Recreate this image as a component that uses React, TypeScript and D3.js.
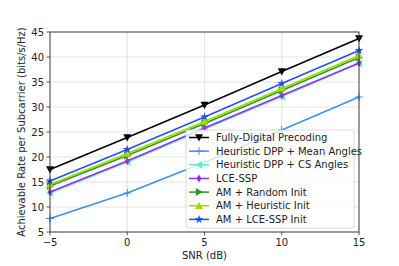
import React from 'react'
import * as d3 from 'd3'

const snr = [-5, 0, 5, 10, 15]
const fullyDigital = [17.5, 23.9, 30.4, 37.1, 43.7]
const meanAngles = [7.7, 12.8, 18.9, 25.4, 32.0]
const csAngles = [12.8, 19.0, 25.6, 32.1, 38.7]
const lceSsp = [13.0, 19.2, 25.8, 32.3, 38.8]
const amRandom = [14.2, 20.3, 26.7, 33.3, 39.9]
const amHeuristic = [14.5, 20.7, 27.1, 33.7, 40.3]
const amLceSsp = [15.2, 21.5, 28.0, 34.7, 41.3]
const xTicks = [-5, 0, 5, 10, 15]
const yTicks = [5, 10, 15, 20, 25, 30, 35, 40, 45]

const series = [
  { name: 'Fully-Digital Precoding', values: fullyDigital, color: '#000000', marker: 'v' },
  { name: 'Heuristic DPP + Mean Angles', values: meanAngles, color: '#3b8ff0', marker: '+' },
  { name: 'Heuristic DPP + CS Angles', values: csAngles, color: '#5ef2c0', marker: '<' },
  { name: 'LCE-SSP', values: lceSsp, color: '#9a2cf0', marker: 'd' },
  { name: 'AM + Random Init', values: amRandom, color: '#1fa01f', marker: '>' },
  { name: 'AM + Heuristic Init', values: amHeuristic, color: '#a8d400', marker: '^' },
  { name: 'AM + LCE-SSP Init', values: amLceSsp, color: '#2150f5', marker: '*' },
]

const Marker = ({ type, x, y, color }) => {
  const s = 4
  switch (type) {
    case 'v':
      return <path d={`M${x - s},${y - s * 0.8}L${x + s},${y - s * 0.8}L${x},${y + s}Z`} fill={color} />
    case '^':
      return <path d={`M${x - s},${y + s * 0.8}L${x + s},${y + s * 0.8}L${x},${y - s}Z`} fill={color} />
    case '<':
      return <path d={`M${x + s * 0.8},${y - s}L${x + s * 0.8},${y + s}L${x - s},${y}Z`} fill={color} />
    case '>':
      return <path d={`M${x - s * 0.8},${y - s}L${x - s * 0.8},${y + s}L${x + s},${y}Z`} fill={color} />
    case 'd':
      return <path d={`M${x},${y - s}L${x + s * 0.6},${y}L${x},${y + s}L${x - s * 0.6},${y}Z`} fill={color} />
    case '+':
      return <path d={`M${x - s},${y}L${x + s},${y}M${x},${y - s}L${x},${y + s}`} stroke={color} strokeWidth={1} />
    case '*':
      return <path d={d3.symbol(d3.symbolStar, 24)()} transform={`translate(${x},${y})`} fill={color} />
    default:
      return null
  }
}

export default function App() {
  const left = 50, right = 359, top = 32, bottom = 232
  const x = d3.scaleLinear().domain([-5, 15]).range([left, right])
  const y = d3.scaleLinear().domain([5, 45]).range([bottom, top])
  const line = d3.line().x((d, i) => x(snr[i])).y((d) => y(d))
  const font = 'DejaVu Sans, sans-serif'

  const lgX = 186, lgY = 130, lgRow = 13.65

  return (
    <svg width={399} height={266} style={{ position: 'absolute', left: 0, top: 0 }} fontFamily={font}>
      <rect width={399} height={266} fill="white" />
      {xTicks.map((t) => (
        <line key={'gx' + t} x1={x(t)} x2={x(t)} y1={top} y2={bottom} stroke="#dcdcdc" strokeWidth={0.8} />
      ))}
      {yTicks.map((t) => (
        <line key={'gy' + t} x1={left} x2={right} y1={y(t)} y2={y(t)} stroke="#dcdcdc" strokeWidth={0.8} />
      ))}
      {series.map((s) => (
        <g key={s.name}>
          <path d={line(s.values)} fill="none" stroke={s.color} strokeWidth={1.5} />
          {s.values.map((v, i) => (
            <Marker key={i} type={s.marker} x={x(snr[i])} y={y(v)} color={s.color} />
          ))}
        </g>
      ))}
      <rect x={left} y={top} width={right - left} height={bottom - top} fill="none" stroke="#333" strokeWidth={0.9} />
      {xTicks.map((t) => (
        <g key={'tx' + t}>
          <line x1={x(t)} x2={x(t)} y1={bottom} y2={bottom + 3.5} stroke="#333" strokeWidth={0.8} />
          <text x={x(t)} y={bottom + 14} textAnchor="middle" fontSize={10} fill="#222">
            {t < 0 ? '\u2212' + Math.abs(t) : t}
          </text>
        </g>
      ))}
      {yTicks.map((t) => (
        <g key={'ty' + t}>
          <line x1={left - 3.5} x2={left} y1={y(t)} y2={y(t)} stroke="#333" strokeWidth={0.8} />
          <text x={left - 6} y={y(t) + 3.6} textAnchor="end" fontSize={10} fill="#222">{t}</text>
        </g>
      ))}
      <text x={(left + right) / 2} y={259} textAnchor="middle" fontSize={10} fill="#222">SNR (dB)</text>
      <text transform={`translate(25,${(top + bottom) / 2}) rotate(-90)`} textAnchor="middle" fontSize={10} fill="#222">
        Achievable Rate per Subcarrier (bits/s/Hz)
      </text>
      <rect x={lgX} y={lgY} width={168} height={98} rx={2} fill="white" fillOpacity={0.8} stroke="#d0d0d0" strokeWidth={0.8} />
      {series.map((s, i) => {
        const cy = lgY + 7.5 + i * lgRow
        return (
          <g key={'lg' + s.name}>
            <line x1={lgX + 3} x2={lgX + 23} y1={cy} y2={cy} stroke={s.color} strokeWidth={1.5} />
            <Marker type={s.marker} x={lgX + 13} y={cy} color={s.color} />
            <text x={lgX + 30} y={cy + 3.6} fontSize={10} fill="#222">{s.name}</text>
          </g>
        )
      })}
    </svg>
  )
}
